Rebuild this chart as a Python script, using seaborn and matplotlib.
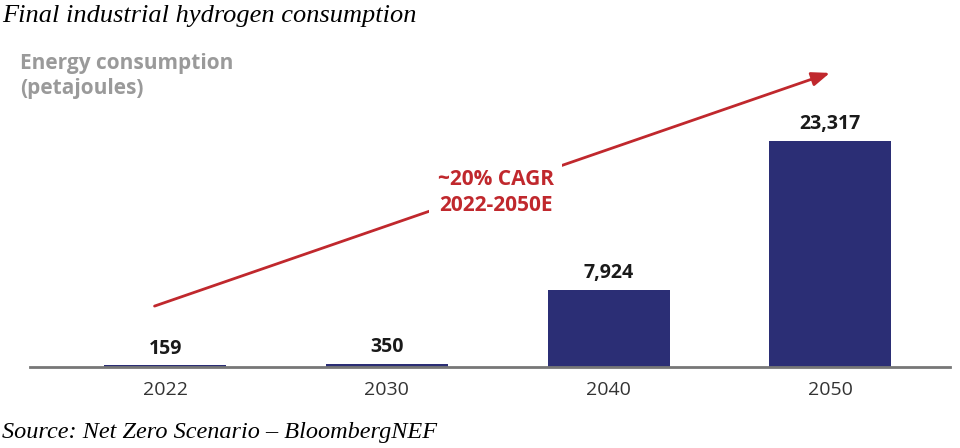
import matplotlib
matplotlib.use("Agg")
import matplotlib.pyplot as plt
import pandas as pd
import seaborn as sns

# chart data
years = ["2022", "2030", "2040", "2050"]
consumption_pj = [159, 350, 7924, 23317]
value_labels = ["159", "350", "7,924", "23,317"]

BAR_COLOR = "#2b2e75"
RED = "#c0282d"

sns.set_theme(style="white")
plt.rcParams["font.family"] = ["Open Sans", "DejaVu Sans"]

df = pd.DataFrame({"year": years, "pj": consumption_pj})

fig = plt.figure(figsize=(9.6, 4.48), dpi=100)
ax = fig.add_axes([30 / 960, 81 / 448, 920 / 960, 317 / 448])

sns.barplot(data=df, x="year", y="pj", order=years, color=BAR_COLOR,
            width=0.55, saturation=1, linewidth=0, ax=ax)

ax.set_xlim(-0.61, 3.54)
ax.set_ylim(0, 32707)
ax.set_xlabel("")
ax.set_ylabel("")
ax.set_yticks([])
for side in ["top", "right", "left"]:
    ax.spines[side].set_visible(False)
ax.spines["bottom"].set_color("#777777")
ax.spines["bottom"].set_linewidth(2)
ax.tick_params(axis="x", length=0, pad=10, labelsize=14, labelcolor="#333333")

# value labels above bars
for i, (v, lab) in enumerate(zip(consumption_pj, value_labels)):
    ax.annotate(lab, (i, v), xytext=(0, 5), textcoords="offset points",
                ha="center", va="bottom", fontsize=14, fontweight="bold",
                color="#1a1a1a")

# growth arrow
ax.annotate("", xy=(3.01, 30437), xytext=(-0.06, 6191),
            arrowprops=dict(arrowstyle="-|>,head_length=0.9,head_width=0.35",
                            color=RED, lw=2))
ax.text(1.49, 18000, "~20% CAGR\n2022-2050E", ha="center", va="center",
        fontsize=15, fontweight="bold", color=RED, linespacing=1.3,
        bbox=dict(facecolor="white", edgecolor="none", pad=6))

# titles
fig.text(2 / 960, 1 - 16 / 448, "Final industrial hydrogen consumption",
         ha="left", va="center", fontsize=19, style="italic",
         family="Liberation Serif", color="black")
fig.text(20 / 960, 1 - 76 / 448, "Energy consumption\n(petajoules)",
         ha="left", va="center", fontsize=15, fontweight="bold",
         color="#9a9a9a", linespacing=1.25)
fig.text(2 / 960, 1 - 432 / 448, "Source: Net Zero Scenario \u2013 BloombergNEF",
         ha="left", va="center", fontsize=17.5, style="italic",
         family="Liberation Serif", color="black")

fig.savefig("out.png", dpi=100)
